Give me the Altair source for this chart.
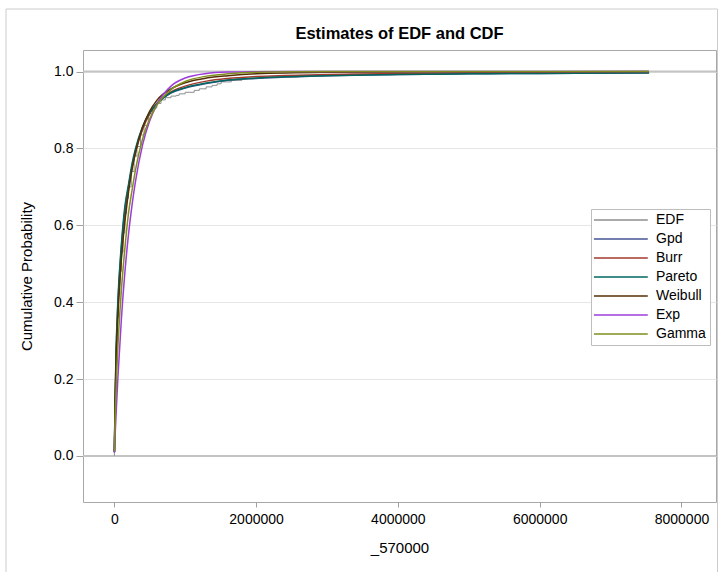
import altair as alt
import pandas as pd

# ---- data ----
SERIES = ["EDF", "Gpd", "Burr", "Pareto", "Weibull", "Exp", "Gamma"]
COLORS = ["#8e8e8e", "#445694", "#A23A2E", "#01665E", "#543005", "#9D3CDB", "#7F8E1F"]

X_FIT = [2000, 10000, 25000, 50000, 100000, 150000, 200000, 250000, 300000, 400000,
         500000, 600000, 800000, 1000000, 1300000, 1600000, 2000000, 3000000,
         4000000, 5000000, 6000000, 7540000]

GPD = [0.011, 0.12, 0.26, 0.39, 0.54, 0.64, 0.70, 0.752, 0.795, 0.855, 0.892, 0.916,
       0.944, 0.957, 0.969, 0.977, 0.982, 0.989, 0.992, 0.994, 0.995, 0.9965]
BURR = [0.01, 0.11, 0.24, 0.37, 0.52, 0.625, 0.695, 0.75, 0.79, 0.85, 0.89, 0.917,
        0.947, 0.962, 0.975, 0.982, 0.987, 0.992, 0.995, 0.9965, 0.9973, 0.998]
PARETO = [0.012, 0.13, 0.27, 0.40, 0.55, 0.65, 0.705, 0.76, 0.80, 0.857, 0.893, 0.916,
          0.945, 0.958, 0.970, 0.978, 0.983, 0.989, 0.992, 0.994, 0.995, 0.9965]
WEIBULL = [0.01, 0.11, 0.24, 0.36, 0.51, 0.61, 0.685, 0.745, 0.79, 0.855, 0.897, 0.925,
           0.955, 0.971, 0.983, 0.989, 0.994, 0.998, 0.999, 0.9995, 0.9997, 0.9998]
EXP = [0.008, 0.045, 0.105, 0.20, 0.355, 0.478, 0.575, 0.652, 0.715, 0.81, 0.872, 0.914,
       0.962, 0.983, 0.995, 0.9985, 0.9997, 1.0, 1.0, 1.0, 1.0, 1.0]
GAMMA = [0.012, 0.08, 0.17, 0.28, 0.43, 0.54, 0.63, 0.69, 0.745, 0.825, 0.877, 0.912,
         0.953, 0.974, 0.988, 0.994, 0.998, 1.0, 1.0, 1.0, 1.0, 1.0]

EDF_X = [0, 2000, 6000, 12000, 20000, 30000, 45000, 60000, 80000, 100000,
         125000, 150000, 175000, 200000, 240000, 280000, 320000, 370000, 420000, 480000,
         540000, 600000, 660000, 720000, 800000, 873000, 915000, 1000000, 1127000, 1200000,
         1296000, 1380000, 1451000, 1507000, 1650000, 1800000, 2100000, 2600000, 3300000, 4500000,
         7540000]
EDF_Y = [0.0, 0.01, 0.06, 0.14, 0.21, 0.28, 0.36, 0.42, 0.48, 0.53,
         0.58, 0.63, 0.67, 0.70, 0.74, 0.78, 0.805, 0.835, 0.86, 0.89,
         0.905, 0.917, 0.926, 0.932, 0.936, 0.938, 0.942, 0.946, 0.951, 0.955,
         0.960, 0.964, 0.968, 0.973, 0.977, 0.982, 0.986, 0.99, 0.993, 0.995,
         1.0]

X_TICKS = [0, 2000000, 4000000, 6000000, 8000000]
Y_TICKS = [0.0, 0.2, 0.4, 0.6, 0.8, 1.0]
REF_LINES = [0.0, 1.0]

# ---- tables ----
fit_rows = []
for name, vals in [("Gpd", GPD), ("Burr", BURR), ("Pareto", PARETO),
                   ("Weibull", WEIBULL), ("Exp", EXP), ("Gamma", GAMMA)]:
    for xv, yv in zip(X_FIT, vals):
        fit_rows.append({"x": xv, "y": yv, "series": name})
df_fit = pd.DataFrame(fit_rows)
df_edf = pd.DataFrame({"x": EDF_X, "y": EDF_Y, "series": "EDF"})
df_ref = pd.DataFrame({"y": REF_LINES})

FONT = "Liberation Sans"

xenc = alt.X("x:Q",
             scale=alt.Scale(domain=[-441000, 8487000], nice=False, zero=False),
             axis=alt.Axis(values=X_TICKS, format="d", title="_570000", grid=False))
yenc = alt.Y("y:Q",
             scale=alt.Scale(domain=[-0.12, 1.056], nice=False, zero=False),
             axis=alt.Axis(values=Y_TICKS, format=".1f", title="Cumulative Probability",
                           grid=True))
color = alt.Color("series:N",
                  scale=alt.Scale(domain=SERIES, range=COLORS),
                  legend=alt.Legend(title=None, orient="none", legendX=508, legendY=159,
                                    symbolType="M-1.5,0H8.5", symbolSize=116,
                                    symbolStrokeWidth=1.5, labelFont=FONT,
                                    labelFontSize=14, labelColor="#000000",
                                    strokeColor="#bdbdbd", fillColor="#ffffff",
                                    padding=4, rowPadding=5, labelOffset=47))

frame = alt.Chart(pd.DataFrame({"a": [0]})).mark_rect(
    fill=None, stroke="#cccccc", strokeWidth=1
).encode(x=alt.value(-77), x2=alt.value(634.5), y=alt.value(-41), y2=alt.value(600))

ref = alt.Chart(df_ref).mark_rule(color="#c4c4c4", strokeWidth=2).encode(y="y:Q")

edf = alt.Chart(df_edf).mark_line(strokeWidth=1, interpolate="step-after", clip=True).encode(
    x=xenc, y=yenc, color=color)

fit = alt.Chart(df_fit).mark_line(strokeWidth=1.5, interpolate="monotone", clip=True).encode(
    x=xenc, y=yenc, color=color)

chart = alt.layer(frame, ref, edf, fit).properties(
    width=633, height=452,
    autosize=alt.AutoSizeParams(type="none"),
    padding={"left": 83, "top": 50, "right": 3, "bottom": 70},
    title=alt.TitleParams("Estimates of EDF and CDF", font=FONT, fontSize=16.5,
                          fontWeight="bold", anchor="middle", offset=-46.5,
                          baseline="alphabetic", color="#000000"),
).configure_view(stroke="#a8a8a8", strokeWidth=1).configure_axis(
    labelFont=FONT, labelFontSize=14, labelColor="#000000",
    titleFont=FONT, titleFontSize=15, titleFontWeight="normal", titleColor="#000000",
    tickColor="#a0a0a0", domain=False, gridColor="#e6e6e6",
).configure_axisX(tickSize=5, labelPadding=5, titlePadding=14).configure_axisY(
    tickSize=7, labelPadding=3, titlePadding=19)

chart.save("out.html", embed_options={"renderer": "svg", "actions": False})
